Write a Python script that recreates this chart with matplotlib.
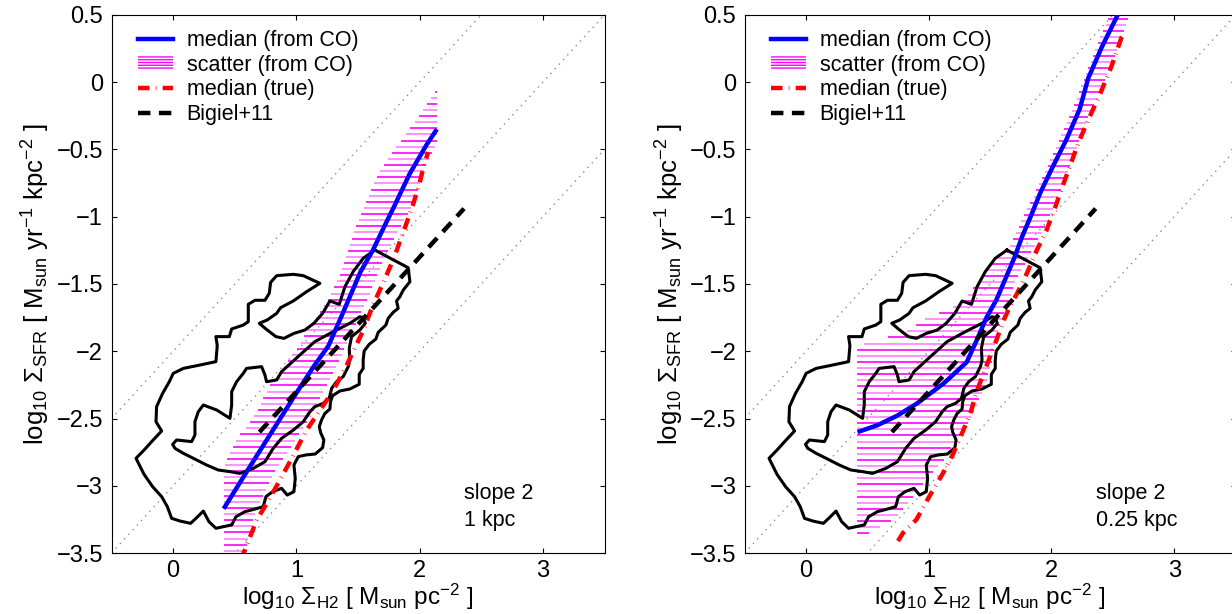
import numpy as np
import matplotlib
matplotlib.use('Agg')
import matplotlib.pyplot as plt
from matplotlib.lines import Line2D
from matplotlib.patches import Patch
from matplotlib.ticker import FuncFormatter

plt.rcParams['font.family'] = ['Liberation Sans', 'DejaVu Sans']
plt.rcParams['mathtext.fontset'] = 'custom'
plt.rcParams['mathtext.rm'] = 'Liberation Sans'
plt.rcParams['mathtext.it'] = 'Liberation Sans:italic'
plt.rcParams['mathtext.bf'] = 'Liberation Sans:bold'
plt.rcParams['hatch.linewidth'] = 1.0

# --- data ---
# depletion-time guide lines: log SFR = log H2 + offset
tdep_offsets = [-2.0, -3.0, -4.0]

# Bigiel+11 relation
bigiel_x = [0.70, 2.36]
bigiel_y = [-2.60, -0.94]

# density contours (identical in both panels)
outer_x = [1.637, 1.907, 1.921, 1.867, 1.840, 1.813, 1.826, 1.786, 1.745, 1.726,
           1.664, 1.645, 1.591, 1.550, 1.542, 1.542, 1.510, 1.510, 1.434, 1.353,
           1.294, 1.277, 1.272, 1.232, 1.204, 1.186, 1.196, 1.223, 1.213, 1.153,
           1.077, 1.015, 0.980, 0.991, 0.980, 0.926, 0.880, 0.807, 0.753, 0.731,
           0.664, 0.583, 0.510, 0.475, 0.407, 0.347, 0.291, 0.245, 0.191, 0.142,
           0.056, -0.012, -0.047, -0.093, -0.166, -0.236, -0.301, -0.228, -0.174, -0.093,
           -0.139, -0.134, -0.085, -0.031, 0.001, 0.083, 0.191, 0.347, 0.358, 0.347,
           0.456, 0.475, 0.569, 0.610, 0.610, 0.664, 0.745, 0.780, 0.791, 0.840,
           0.975, 1.056, 1.191, 1.083, 0.975, 0.872, 0.840, 0.764, 0.699, 0.753,
           0.834, 0.899, 0.980, 1.069, 1.142, 1.213, 1.272, 1.348, 1.394, 1.461,
           1.542, 1.637]
outer_y = [-1.248, -1.379, -1.483, -1.545, -1.594, -1.626, -1.681, -1.710, -1.755, -1.805,
           -1.859, -1.909, -1.948, -1.998, -2.065, -2.127, -2.171, -2.245, -2.280, -2.295,
           -2.330, -2.374, -2.429, -2.461, -2.510, -2.560, -2.602, -2.659, -2.716, -2.763,
           -2.770, -2.783, -2.845, -2.944, -3.043, -3.068, -3.018, -3.043, -3.080, -3.154,
           -3.172, -3.191, -3.229, -3.290, -3.303, -3.315, -3.266, -3.187, -3.236, -3.278,
           -3.261, -3.241, -3.154, -3.080, -3.006, -2.914, -2.795, -2.726, -2.671, -2.592,
           -2.523, -2.411, -2.312, -2.226, -2.164, -2.127, -2.107, -2.077, -1.958, -1.891,
           -1.891, -1.834, -1.805, -1.780, -1.651, -1.621, -1.621, -1.569, -1.488, -1.438,
           -1.428, -1.438, -1.495, -1.557, -1.626, -1.676, -1.718, -1.767, -1.792, -1.834,
           -1.891, -1.904, -1.867, -1.842, -1.792, -1.718, -1.626, -1.651, -1.520, -1.408,
           -1.309, -1.248]
inner_x = [1.542, 1.559, 1.515, 1.448, 1.429, 1.434, 1.421, 1.380, 1.326, 1.286,
           1.267, 1.218, 1.150, 1.110, 1.056, 0.975, 0.880, 0.812, 0.745, 0.650,
           0.542, 0.461, 0.366, 0.272, 0.164, 0.083, 0.015, -0.004, 0.028, 0.150,
           0.177, 0.177, 0.204, 0.245, 0.353, 0.461, 0.475, 0.475, 0.515, 0.569,
           0.596, 0.718, 0.745, 0.758, 0.840, 0.880, 1.029, 1.150, 1.299, 1.434,
           1.515, 1.542]
inner_y = [-1.750, -1.792, -1.842, -1.891, -1.978, -2.065, -2.114, -2.188, -2.226, -2.275,
           -2.349, -2.387, -2.411, -2.449, -2.523, -2.585, -2.647, -2.721, -2.820, -2.870,
           -2.907, -2.894, -2.882, -2.845, -2.795, -2.758, -2.721, -2.691, -2.659, -2.671,
           -2.622, -2.523, -2.449, -2.399, -2.436, -2.498, -2.399, -2.300, -2.226, -2.164,
           -2.127, -2.114, -2.176, -2.226, -2.213, -2.151, -2.027, -1.928, -1.854, -1.792,
           -1.743, -1.750]

# left panel: 1 kpc
left_med_x = [0.41, 0.60, 0.80, 1.00, 1.15, 1.26, 1.38, 1.52, 1.62, 1.72, 1.79, 1.92, 2.06, 2.14]
left_med_y = [-3.17, -2.89, -2.60, -2.31, -2.10, -1.96, -1.71, -1.41, -1.25, -1.06, -0.93, -0.68, -0.46, -0.35]
left_true_x = [0.55, 0.68, 0.76, 0.84, 0.93, 1.00, 1.08, 1.19, 1.30, 1.41, 1.54, 1.62, 1.71, 1.79,
               1.87, 1.95, 2.00, 2.04, 2.07]
left_true_y = [-3.55, -3.25, -3.13, -3.00, -2.85, -2.73, -2.59, -2.44, -2.29, -2.10, -1.85, -1.66,
               -1.48, -1.31, -1.11, -0.90, -0.75, -0.60, -0.52]
left_up_x = [0.415, 0.42, 0.46, 0.515, 0.61, 0.68, 0.73, 0.785, 0.88, 0.95, 1.04, 1.11, 1.18,
             1.27, 1.34, 1.41, 1.49, 1.56, 1.64, 1.72, 1.79, 1.87, 1.975, 2.08, 2.125]
left_up_y = [-2.87, -2.845, -2.75, -2.65, -2.55, -2.45, -2.35, -2.25, -2.15, -2.05, -1.93, -1.81,
             -1.73, -1.59, -1.46, -1.29, -1.06, -0.90, -0.73, -0.60, -0.50, -0.41, -0.28, -0.13, -0.07]
left_lo_x = [0.59, 0.60, 0.64, 0.68, 0.75, 0.83, 0.93, 1.03, 1.12, 1.19, 1.27, 1.35, 1.43, 1.515,
             1.60, 1.705, 1.80, 1.89, 1.95, 2.00, 2.056, 2.10, 2.137, 2.137]
left_lo_y = [-3.55, -3.43, -3.29, -3.17, -3.03, -2.88, -2.75, -2.61, -2.48, -2.35, -2.21, -2.06,
             -1.90, -1.73, -1.56, -1.33, -1.15, -1.00, -0.90, -0.75, -0.60, -0.53, -0.45, -0.07]

# right panel: 0.25 kpc
right_med_x = [0.42, 0.58, 0.74, 0.90, 1.12, 1.31, 1.39, 1.47, 1.55, 1.63, 1.70, 1.76, 1.83,
               1.91, 2.01, 2.12, 2.23, 2.30, 2.41, 2.54]
right_med_y = [-2.60, -2.55, -2.48, -2.39, -2.24, -2.08, -1.92, -1.75, -1.62, -1.45, -1.30, -1.15,
               -1.00, -0.82, -0.63, -0.43, -0.20, 0.03, 0.26, 0.50]
right_true_x = [0.75, 0.79, 0.90, 1.01, 1.12, 1.20, 1.28, 1.34, 1.39, 1.47, 1.55, 1.61, 1.66, 1.72,
                1.80, 1.88, 1.96, 2.03, 2.10, 2.16, 2.22, 2.30, 2.40, 2.49, 2.57, 2.59]
right_true_y = [-3.41, -3.35, -3.25, -3.07, -2.90, -2.76, -2.59, -2.46, -2.30, -2.11, -1.92, -1.77,
                -1.67, -1.57, -1.42, -1.25, -1.10, -0.93, -0.75, -0.60, -0.45, -0.28, -0.08, 0.12,
                0.33, 0.36]
right_up_x = [0.415, 0.62, 0.80, 0.95, 1.07, 1.18, 1.28, 1.40, 1.45, 1.53, 1.63, 1.70, 1.76, 1.86,
              1.95, 2.05, 2.15, 2.24, 2.33, 2.43, 2.50]
right_up_y = [-1.955, -1.91, -1.865, -1.77, -1.72, -1.68, -1.62, -1.49, -1.41, -1.33, -1.26, -1.15,
              -1.02, -0.84, -0.66, -0.46, -0.25, -0.04, 0.18, 0.40, 0.56]
right_lo_x = [0.41, 0.48, 0.575, 0.66, 0.74, 0.82, 0.90, 0.98, 1.06, 1.15, 1.20, 1.28, 1.34, 1.39,
              1.42, 1.47, 1.52, 1.55, 1.60, 1.66, 1.72, 1.80, 1.88, 1.96, 2.03, 2.10, 2.17, 2.23,
              2.30, 2.40, 2.48, 2.56, 2.60, 2.65]
right_lo_y = [-3.40, -3.37, -3.32, -3.28, -3.23, -3.14, -3.05, -2.96, -2.87, -2.78, -2.68, -2.60,
              -2.50, -2.41, -2.33, -2.23, -2.05, -1.90, -1.75, -1.60, -1.45, -1.32, -1.19, -1.05,
              -0.91, -0.75, -0.58, -0.42, -0.25, -0.06, 0.12, 0.30, 0.40, 0.56]

HATCH_STEP = 0.0455
FONTSIZE = 15.5
BLUE = '#0000ff'
RED = '#ff0000'
MAGENTA = ['#ff00ff', '#ff80ff']
RED_STYLE = (0, (2.6, 1.4, 0.15, 1.4))
BLACK_STYLE = (0, (2.8, 1.9))


def draw_scatter(ax, up_x, up_y, lo_x, lo_y):
    x_min = up_x[0]
    y_top = min(up_y[-1], lo_y[-1])
    levels = y_top - HATCH_STEP * np.arange(int((y_top + 3.7) / HATCH_STEP))
    x0 = np.maximum(np.interp(levels, up_y, up_x), x_min)
    x1 = np.interp(levels, lo_y, lo_x)
    keep = x1 > x0
    cols = [MAGENTA[i % 2] for i in range(len(levels))]
    cols = [c for c, k in zip(cols, keep) if k]
    ax.hlines(levels[keep], x0[keep], x1[keep], colors=cols, linewidth=1.2, zorder=1)


def draw_panel(ax, med_x, med_y, true_x, true_y, up_x, up_y, lo_x, lo_y, scale_label):
    xg = np.array([-0.5, 3.5])
    for off in tdep_offsets:
        ax.plot(xg, xg + off, color='#8c8c8c', lw=1.0, linestyle=(0, (1, 3.5)), zorder=0)

    draw_scatter(ax, up_x, up_y, lo_x, lo_y)

    ax.plot(outer_x, outer_y, color='k', lw=2.2, solid_joinstyle='round', zorder=2)
    ax.plot(inner_x, inner_y, color='k', lw=2.2, solid_joinstyle='round', zorder=2)

    ax.plot(med_x, med_y, color=BLUE, lw=3.2, solid_capstyle='butt', zorder=3)
    ax.plot(true_x, true_y, color=RED, lw=3.2, linestyle=RED_STYLE, zorder=4)
    ax.plot(bigiel_x, bigiel_y, color='k', lw=3.2, linestyle=BLACK_STYLE, zorder=5)

    ax.text(2.36, -3.06, 'slope 2', fontsize=FONTSIZE, va='center', ha='left')
    ax.text(2.36, -3.26, scale_label, fontsize=FONTSIZE, va='center', ha='left')

    ax.set_xlim(-0.5, 3.5)
    ax.set_ylim(-3.5, 0.5)
    ax.set_xticks([0, 1, 2, 3])
    ax.set_yticks(np.arange(-3.5, 0.51, 0.5))
    fmt = FuncFormatter(lambda v, p: f'{v:g}'.replace('-', '\u2212'))
    ax.xaxis.set_major_formatter(fmt)
    ax.yaxis.set_major_formatter(fmt)
    ax.tick_params(direction='in', top=True, right=True, length=3.8, width=0.8,
                   labelsize=17)
    ax.tick_params(axis='x', pad=5)
    ax.tick_params(axis='y', pad=6)
    for sp in ax.spines.values():
        sp.set_linewidth(0.8)

    ax.set_xlabel('log$_{10}$ \u03a3$_{\\mathrm{H2}}$ [ M$_{\\mathrm{sun}}$ pc$^{-2}$ ]',
                  fontsize=17.5, labelpad=0)
    ax.set_ylabel('log$_{10}$ \u03a3$_{\\mathrm{SFR}}$ [ M$_{\\mathrm{sun}}$ yr$^{-1}$ kpc$^{-2}$ ]',
                  fontsize=18.5, labelpad=3)

    handles = [
        Line2D([], [], color=BLUE, lw=3.2),
        Patch(facecolor='none', edgecolor=MAGENTA[0], hatch='------', lw=0),
        Line2D([], [], color=RED, lw=3.2, linestyle=RED_STYLE),
        Line2D([], [], color='k', lw=3.2, linestyle=BLACK_STYLE),
    ]
    labels = ['median (from CO)', 'scatter (from CO)', 'median (true)', 'Bigiel+11']
    ax.legend(handles, labels, loc='upper left', bbox_to_anchor=(0.054, 0.972),
              frameon=False, fontsize=FONTSIZE, borderpad=0, borderaxespad=0,
              handlelength=1.6, handletextpad=0.65, handleheight=0.55,
              labelspacing=0.17)


fig = plt.figure(figsize=(12.32, 6.14), dpi=100)
ax1 = fig.add_axes([111.5 / 1232, 60.8 / 614, 493 / 1232, 538.4 / 614])
ax2 = fig.add_axes([744.6 / 1232, 60.8 / 614, 491 / 1232, 538.4 / 614])

draw_panel(ax1, left_med_x, left_med_y, left_true_x, left_true_y,
           left_up_x, left_up_y, left_lo_x, left_lo_y, '1 kpc')
draw_panel(ax2, right_med_x, right_med_y, right_true_x, right_true_y,
           right_up_x, right_up_y, right_lo_x, right_lo_y, '0.25 kpc')

fig.savefig('out.png', dpi=100)
